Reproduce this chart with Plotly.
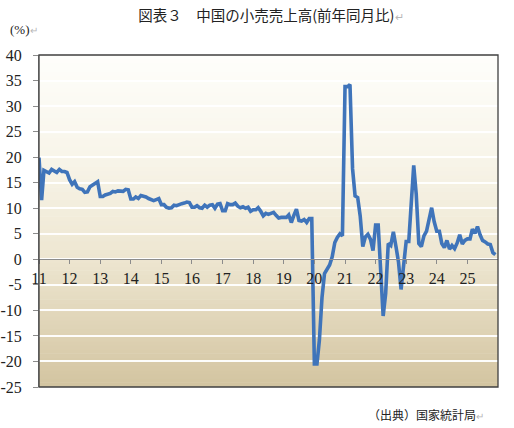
import pandas as pd
import plotly.graph_objects as go

# monthly YoY retail sales (%), Jan..Dec for each year
yoy_2011 = [19.9, 11.6, 17.4, 17.1, 16.9, 17.6, 17.2, 17.0, 17.6, 17.2, 17.2, 17.0]
yoy_2012 = [15.6, 14.7, 15.2, 14.1, 13.8, 13.7, 13.1, 13.2, 14.2, 14.5, 14.9, 15.2]
yoy_2013 = [12.3, 12.3, 12.6, 12.8, 12.9, 13.3, 13.2, 13.4, 13.3, 13.3, 13.7, 13.6]
yoy_2014 = [11.8, 11.8, 12.2, 11.9, 12.5, 12.4, 12.2, 11.9, 11.6, 11.5, 11.7, 11.9]
yoy_2015 = [10.7, 10.7, 10.2, 10.0, 10.1, 10.6, 10.5, 10.8, 10.9, 11.0, 11.2, 11.1]
yoy_2016 = [10.2, 10.2, 10.5, 10.1, 10.0, 10.6, 10.2, 10.6, 10.7, 10.0, 10.8, 10.9]
yoy_2017 = [9.5, 9.5, 10.9, 10.7, 10.7, 11.0, 10.4, 10.1, 10.3, 10.0, 10.2, 9.4]
yoy_2018 = [9.7, 9.7, 10.1, 9.4, 8.5, 9.0, 8.8, 9.0, 9.2, 8.6, 8.1, 8.2]
yoy_2019 = [8.2, 8.2, 8.7, 7.2, 8.6, 9.8, 7.6, 7.5, 7.8, 7.2, 8.0, 8.0]
yoy_2020 = [-20.5, -20.5, -15.8, -7.5, -2.8, -1.8, -1.1, 0.5, 3.3, 4.3, 5.0, 4.6]
yoy_2021 = [33.8, 33.8, 34.2, 17.7, 12.4, 12.1, 8.5, 2.5, 4.4, 4.9, 3.9, 1.7]
yoy_2022 = [6.7, 6.7, -3.5, -11.1, -6.7, 3.1, 2.7, 5.4, 2.5, -0.5, -5.9, -1.8]
yoy_2023 = [3.5, 3.5, 10.6, 18.4, 12.7, 3.1, 2.5, 4.6, 5.5, 7.6, 10.1, 7.4]
yoy_2024 = [5.5, 5.5, 3.1, 2.3, 3.7, 2.0, 2.7, 2.1, 3.2, 4.8, 3.0, 3.7]
yoy_2025 = [4.0, 4.0, 5.9, 5.1, 6.4, 4.8, 3.7, 3.4, 3.0, 2.9, 1.3, 0.9]

values = (yoy_2011 + yoy_2012 + yoy_2013 + yoy_2014 + yoy_2015 + yoy_2016 + yoy_2017
          + yoy_2018 + yoy_2019 + yoy_2020 + yoy_2021 + yoy_2022 + yoy_2023 + yoy_2024 + yoy_2025)
months = pd.date_range("2011-01-01", periods=len(values), freq="MS")

year_ticks = [f"{y}-01-01" for y in range(2011, 2026)]
year_labels = [str(y)[2:] for y in range(2011, 2026)]
y_ticks = list(range(-25, 41, 5))
y_labels = [str(v) for v in y_ticks]

fig = go.Figure()
fig.add_trace(go.Scatter(x=months, y=values, mode="lines",
                         line=dict(color="#3f74ba", width=3.6), showlegend=False))

# vertical gradient background, white at top to tan at bottom
stops = [(0.0, (211, 196, 160)), (0.4, (238, 231, 210)), (0.7, (248, 245, 234)), (1.0, (254, 254, 251))]
def grad(t):
    for (t0, c0), (t1, c1) in zip(stops[:-1], stops[1:]):
        if t0 <= t <= t1:
            f = (t - t0) / (t1 - t0)
            return "rgb(%d,%d,%d)" % tuple(round(a + (b - a) * f) for a, b in zip(c0, c1))
    return "rgb(254,254,251)"

n = 80
for i in range(n):
    fig.add_shape(type="rect", xref="x domain", yref="y domain",
                  x0=0, x1=1, y0=i / n, y1=(i + 1) / n + 0.002,
                  fillcolor=grad((i + 0.5) / n), line_width=0, layer="below")

# frame
fig.add_shape(type="rect", xref="x domain", yref="y domain", x0=0, x1=1, y0=0, y1=1,
              line=dict(color="#404040", width=1.3), layer="above")

serif = "Liberation Serif"
fig.update_layout(
    width=514, height=428,
    margin=dict(l=39.3, r=16.3, t=55, b=41.3, autoexpand=False),
    paper_bgcolor="white", plot_bgcolor="white",
    title=dict(text="図表３　中国の小売売上高(前年同月比)<span style='color:#b8b8b8;font-size:11px'>↵</span>",
               x=0.527, xanchor="center", y=0.962, yanchor="middle",
               font=dict(family="Noto Sans CJK JP", size=14.5, color="#222")),
    xaxis=dict(type="date", range=["2011-01-01", "2026-01-01"],
               tickvals=year_ticks, ticktext=year_labels,
               anchor="free", position=25 / 65, automargin=False,
               showline=True, linecolor="#8c8c8c", linewidth=1,
               ticks="outside", ticklen=4, tickcolor="#8c8c8c",
               ticklabelstandoff=0, showgrid=False, zeroline=False,
               tickfont=dict(family=serif, size=16, color="#222")),
    yaxis=dict(range=[-25, 40], tickvals=y_ticks, ticktext=y_labels, automargin=False,
               showline=True, linecolor="#8c8c8c", linewidth=1,
               ticks="outside", ticklen=5, tickcolor="#8c8c8c",
               ticklabelstandoff=8,
               showgrid=True, gridcolor="rgba(255,255,255,0.95)", gridwidth=1.6,
               zeroline=False,
               tickfont=dict(family=serif, size=16, color="#222")),
)

fig.add_annotation(xref="paper", yref="paper", x=(8 - 39.3) / 458.4, y=(386.7 - 30) / 331.7,
                   xanchor="left", yanchor="middle", showarrow=False,
                   text="(%)<span style='color:#b8b8b8;font-size:10px'>↵</span>",
                   font=dict(family=serif, size=13, color="#222"))
fig.add_annotation(xref="paper", yref="paper", x=(366 - 39.3) / 458.4, y=(386.7 - 414) / 331.7,
                   xanchor="left", yanchor="middle", showarrow=False,
                   text="（出典）国家統計局<span style='color:#b8b8b8;font-size:10px'>↵</span>",
                   font=dict(family="Noto Sans CJK JP", size=12, color="#222"))

# drop the default 8px page margin so the figure sits at the window corner
fig.write_html("out.html", config={"displayModeBar": False},
               post_script="document.body.style.margin='0';")
